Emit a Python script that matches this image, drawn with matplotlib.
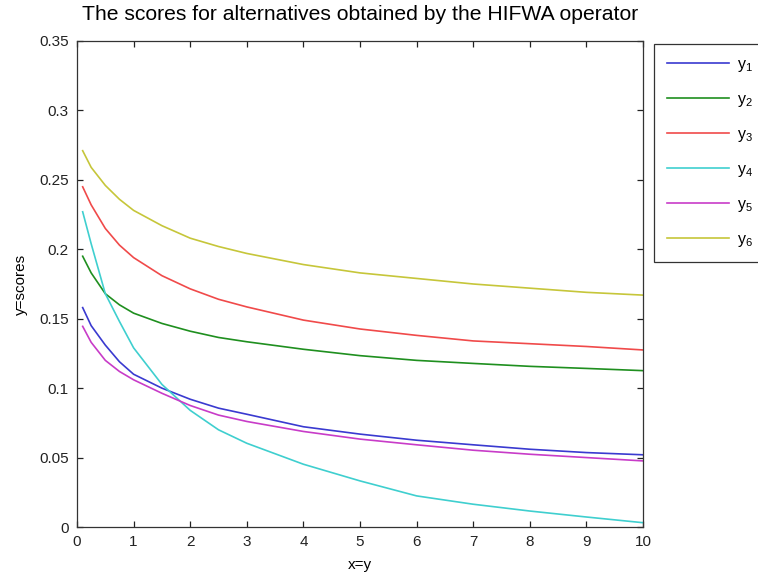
import numpy as np
import matplotlib
matplotlib.use("Agg")
import matplotlib.pyplot as plt
from matplotlib.ticker import FuncFormatter

plt.rcParams['font.family'] = ['Liberation Sans', 'DejaVu Sans']
plt.rcParams['mathtext.default'] = 'regular'

# values
x = [0.1, 0.25, 0.5, 0.75, 1, 1.5, 2, 2.5, 3, 4, 5, 6, 7, 8, 9, 10]

y1 = [0.158, 0.145, 0.131, 0.119, 0.110, 0.100, 0.092, 0.0856, 0.0812, 0.0722,
      0.0669, 0.0625, 0.0592, 0.056, 0.0536, 0.052]
y2 = [0.195, 0.183, 0.168, 0.160, 0.154, 0.1466, 0.141, 0.1365, 0.1334, 0.128,
      0.1234, 0.120, 0.1178, 0.1157, 0.1142, 0.1126]
y3 = [0.245, 0.232, 0.215, 0.203, 0.194, 0.181, 0.1715, 0.164, 0.1585, 0.149,
      0.1426, 0.138, 0.134, 0.132, 0.130, 0.1275]
y4 = [0.227, 0.204, 0.168, 0.148, 0.129, 0.1027, 0.084, 0.070, 0.0603, 0.0452,
      0.0332, 0.0224, 0.0164, 0.0115, 0.0072, 0.0031]
y5 = [0.1445, 0.133, 0.120, 0.112, 0.106, 0.0963, 0.0875, 0.0806, 0.076, 0.0688,
      0.0633, 0.0592, 0.0553, 0.0524, 0.050, 0.0476]
y6 = [0.271, 0.259, 0.246, 0.236, 0.228, 0.217, 0.208, 0.202, 0.197, 0.189,
      0.183, 0.179, 0.175, 0.172, 0.169, 0.167]

series = [y1, y2, y3, y4, y5, y6]
labels = ['y$_1$', 'y$_2$', 'y$_3$', 'y$_4$', 'y$_5$', 'y$_6$']
colors = ['#3a3ad0', '#1f8f1f', '#f04a4a', '#3fcfcf', '#c83cc8', '#c6c63a']

fig = plt.figure(figsize=(7.58, 5.84), dpi=100)
ax = fig.add_axes([0.1016, 0.0976, 0.7467, 0.8322])

for ys, lab, c in zip(series, labels, colors):
    ax.plot(x, ys, color=c, linewidth=1.2, label=lab)

ax.set_xlim(0, 10)
ax.set_ylim(0, 0.35)
ax.set_xticks(np.arange(0, 11, 1))
ax.set_yticks(np.arange(0, 0.351, 0.05))
ax.yaxis.set_major_formatter(FuncFormatter(lambda v, p: '%g' % round(v, 2)))

ax.tick_params(direction='in', length=4, width=0.9, top=True, right=True,
               labelsize=11, colors='#222222', pad=6)
for s in ax.spines.values():
    s.set_color('#333333')
    s.set_linewidth(0.9)

ax.set_title('The scores for alternatives obtained by the HIFWA operator',
             fontsize=15.2, pad=15)
ax.set_xlabel('x=y', fontsize=11, labelpad=6)
ax.set_ylabel('y=scores', fontsize=11, labelpad=8)

leg = ax.legend(loc='upper left', bbox_to_anchor=(654 / 758, 1 - 44 / 584),
                bbox_transform=fig.transFigure, borderaxespad=0,
                fontsize=11.5, handlelength=3.9, handletextpad=0.5,
                labelspacing=1.13, borderpad=0.8, fancybox=False,
                framealpha=1, edgecolor='#333333')
leg.get_frame().set_linewidth(0.9)

fig.savefig('out.png', dpi=100)
